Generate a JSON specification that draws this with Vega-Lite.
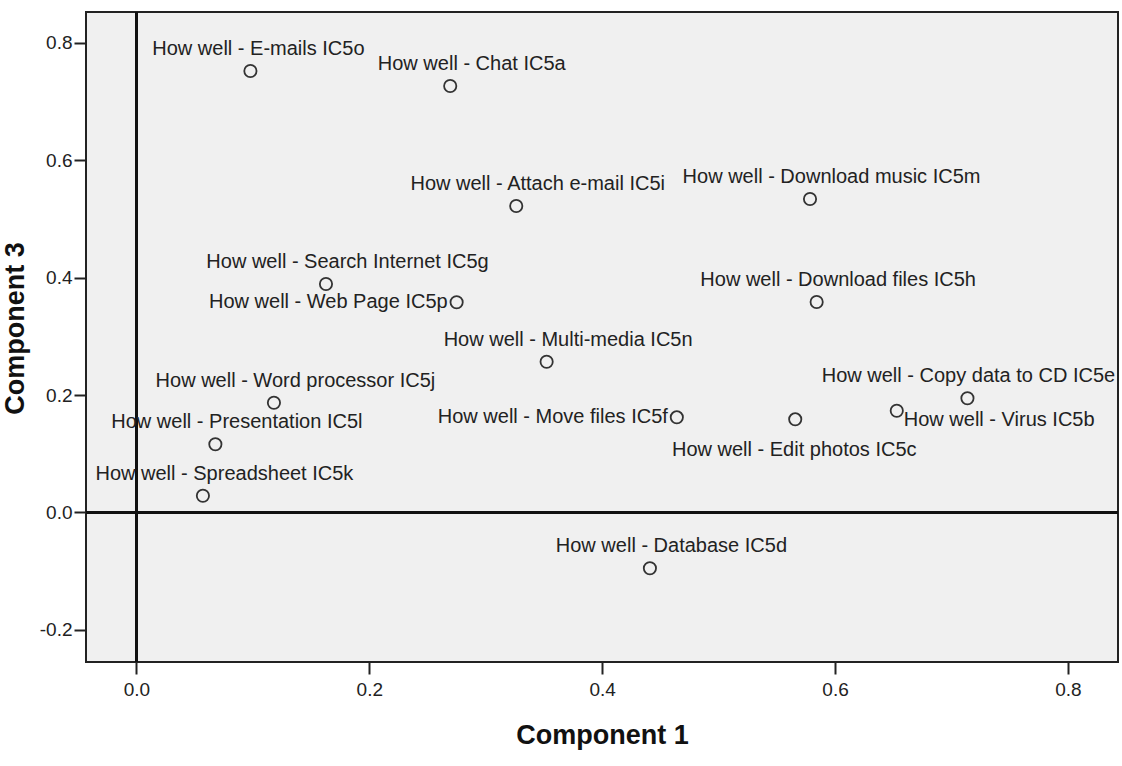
{
  "$schema": "https://vega.github.io/schema/vega-lite/v6.json",
  "width": 1032,
  "height": 650,
  "autosize": "none",
  "padding": {"left": 86, "top": 12, "right": 4, "bottom": 104},
  "background": "white",
  "config": {
    "view": {"stroke": "#222", "strokeWidth": 2, "fill": "#f0f0f0"},
    "font": "Liberation Sans",
    "axis": {
      "grid": false,
      "domain": false,
      "tickColor": "#222",
      "tickWidth": 2,
      "tickSize": 12,
      "labelFont": "Liberation Sans",
      "labelFontSize": 19,
      "labelColor": "#222",
      "titleFont": "Liberation Sans",
      "titleFontSize": 27,
      "titleFontWeight": "bold",
      "titleColor": "#111"
    }
  },
  "data": {
    "values": [
      {"label": "How well - E-mails IC5o", "c1": 0.0979, "c3": 0.7515},
      {"label": "How well - Chat IC5a", "c1": 0.2695, "c3": 0.726},
      {"label": "How well - Attach e-mail IC5i", "c1": 0.3262, "c3": 0.5217},
      {"label": "How well - Download music IC5m", "c1": 0.5785, "c3": 0.5336},
      {"label": "How well - Search Internet IC5g", "c1": 0.1628, "c3": 0.389},
      {"label": "How well - Web Page IC5p", "c1": 0.275, "c3": 0.3578},
      {"label": "How well - Download files IC5h", "c1": 0.5842, "c3": 0.3583},
      {"label": "How well - Multi-media IC5n", "c1": 0.3523, "c3": 0.2567},
      {"label": "How well - Word processor IC5j", "c1": 0.1181, "c3": 0.1869},
      {"label": "How well - Presentation IC5l", "c1": 0.0678, "c3": 0.1161},
      {"label": "How well - Spreadsheet IC5k", "c1": 0.0571, "c3": 0.0286},
      {"label": "How well - Move files IC5f", "c1": 0.4641, "c3": 0.162},
      {"label": "How well - Edit photos IC5c", "c1": 0.5658, "c3": 0.1586},
      {"label": "How well - Virus IC5b", "c1": 0.653, "c3": 0.1733},
      {"label": "How well - Copy data to CD IC5e", "c1": 0.7137, "c3": 0.1944},
      {"label": "How well - Database IC5d", "c1": 0.441, "c3": -0.095}
    ]
  },
  "encoding": {
    "x": {
      "field": "c1", "type": "quantitative",
      "scale": {"domain": [-0.0433, 0.843], "nice": false, "zero": false},
      "axis": {"title": "Component 1", "values": [0, 0.2, 0.4, 0.6, 0.8], "labelExpr": "replace(format(datum.value, '.1f'), '\u2212', '-')", "labelPadding": 6, "titleY": 81, "titleBaseline": "alphabetic"}
    },
    "y": {
      "field": "c3", "type": "quantitative",
      "scale": {"domain": [-0.2545, 0.852], "nice": false, "zero": false},
      "axis": {"title": "Component 3", "values": [-0.2, 0, 0.2, 0.4, 0.6, 0.8], "labelExpr": "replace(format(datum.value, '.1f'), '\u2212', '-')", "labelPadding": 2, "titleX": -63, "titleY": 316, "titleBaseline": "alphabetic"}
    }
  },
  "layer": [
    {"mark": {"type": "rule", "color": "#111", "strokeWidth": 2}, "encoding": {"x": {"datum": 0}, "y": null}},
    {"mark": {"type": "rule", "color": "#111", "strokeWidth": 2}, "encoding": {"y": {"datum": 0}, "x": null}},
    {"mark": {"type": "point", "shape": "circle", "filled": false, "stroke": "#333", "strokeWidth": 1.8, "size": 150, "opacity": 1}},
    {
      "transform": [{"filter": {"field": "label", "oneOf": ["How well - Chat IC5a", "How well - Attach e-mail IC5i", "How well - Download music IC5m", "How well - Search Internet IC5g", "How well - Download files IC5h", "How well - Multi-media IC5n", "How well - Word processor IC5j", "How well - Presentation IC5l", "How well - Spreadsheet IC5k", "How well - Database IC5d"]}}],
      "mark": {"type": "text", "fontSize": 20, "color": "#222", "align": "center", "baseline": "middle", "dx": 21.5, "dy": -22},
      "encoding": {"text": {"field": "label"}}
    },
    {
      "transform": [{"filter": {"field": "label", "equal": "How well - E-mails IC5o"}}],
      "mark": {"type": "text", "fontSize": 20, "color": "#222", "align": "center", "baseline": "middle", "dx": 8, "dy": -22},
      "encoding": {"text": {"field": "label"}}
    },
    {
      "transform": [{"filter": {"field": "label", "equal": "How well - Copy data to CD IC5e"}}],
      "mark": {"type": "text", "fontSize": 20, "color": "#222", "align": "center", "baseline": "middle", "dx": 1, "dy": -22},
      "encoding": {"text": {"field": "label"}}
    },
    {
      "transform": [{"filter": {"field": "label", "oneOf": ["How well - Web Page IC5p", "How well - Move files IC5f"]}}],
      "mark": {"type": "text", "fontSize": 20, "color": "#222", "align": "right", "baseline": "middle", "dx": -9, "dy": 0},
      "encoding": {"text": {"field": "label"}}
    },
    {
      "transform": [{"filter": {"field": "label", "equal": "How well - Virus IC5b"}}],
      "mark": {"type": "text", "fontSize": 20, "color": "#222", "align": "left", "baseline": "middle", "dx": 7, "dy": 9},
      "encoding": {"text": {"field": "label"}}
    },
    {
      "transform": [{"filter": {"field": "label", "equal": "How well - Edit photos IC5c"}}],
      "mark": {"type": "text", "fontSize": 20, "color": "#222", "align": "center", "baseline": "middle", "dx": -1, "dy": 31},
      "encoding": {"text": {"field": "label"}}
    }
  ]
}
